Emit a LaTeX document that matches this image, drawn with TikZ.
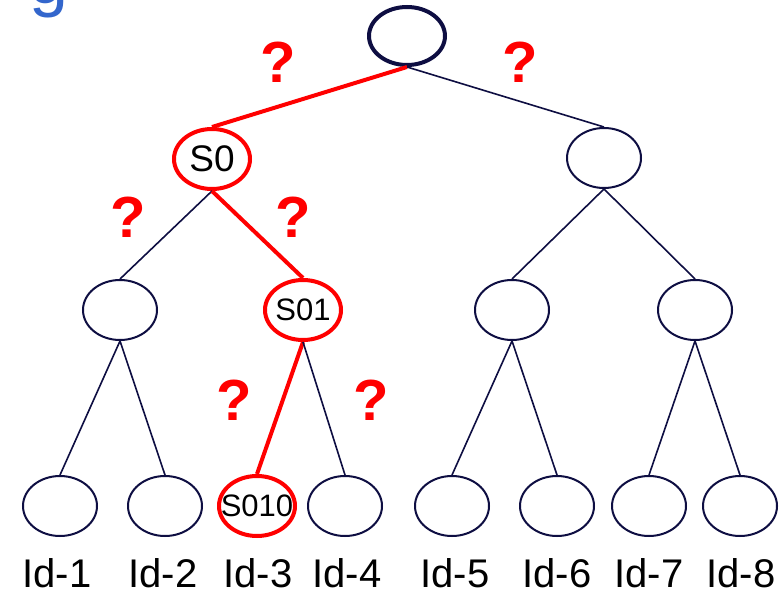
\documentclass[tikz,border=0pt]{standalone}
\usepackage{fontspec}
\setmainfont{Liberation Sans}
\usetikzlibrary{shapes.geometric}
\definecolor{navy}{RGB}{14,14,66}
\definecolor{titleblue}{RGB}{51,102,204}
\tikzset{
  nd/.style={ellipse, draw=navy, line width=2pt, minimum width=74pt, minimum height=60pt, inner sep=0pt, font=\fontsize{31}{36}\selectfont},
  hl/.style={nd, draw=red, line width=4pt, minimum width=76pt, minimum height=60pt},
  edge/.style={draw=navy, line width=1.6pt},
  redge/.style={draw=red, line width=4pt},
  qm/.style={text=red, anchor=base, inner sep=0pt, font=\fontsize{58}{64}\selectfont\bfseries},
  idl/.style={anchor=base, inner sep=0pt, font=\fontsize{40}{46}\selectfont}
}
\begin{document}
\begin{tikzpicture}[x=1pt,y=-1pt]
\clip (0,0) rectangle (783,593);
\fill[white] (0,0) rectangle (783,593);
\node[anchor=base west, inner sep=0pt, text=titleblue, font=\fontsize{70}{80}\selectfont] (title) at (29,4) {g};
% nodes
\node[nd, draw=navy, line width=4pt, minimum width=76pt, minimum height=58pt] (root) at (407,36) {};
\node[hl, font=\fontsize{37}{42}\selectfont] (s0) at (212,159) {\makebox[0pt]{S0}};
\node[nd] (r1) at (604,158) {};
\node[nd] (a) at (120,310) {};
\node[hl] (s01) at (303,310) {\makebox[0pt]{S01}};
\node[nd] (c) at (512,310) {};
\node[nd] (d) at (695,310) {};
\node[nd] (l1) at (60,506) {};
\node[nd] (l2) at (165,506) {};
\node[hl] (l3) at (257,506) {\makebox[0pt]{S010}};
\node[nd] (l4) at (345,506) {};
\node[nd] (l5) at (452,506) {};
\node[nd] (l6) at (557,506) {};
\node[nd] (l7) at (649,506) {};
\node[nd] (l8) at (740,506) {};
% edges
\draw[redge] (root.south) -- (s0.north);
\draw[edge] (root.south) -- (r1.north);
\draw[edge] (s0.south) -- (a.north);
\draw[redge] (s0.south) -- (s01.north);
\draw[edge] (r1.south) -- (c.north);
\draw[edge] (r1.south) -- (d.north);
\draw[edge] (a.south) -- (l1.north);
\draw[edge] (a.south) -- (l2.north);
\draw[redge] (s01.south) -- (l3.north);
\draw[edge] (s01.south) -- (l4.north);
\draw[edge] (c.south) -- (l5.north);
\draw[edge] (c.south) -- (l6.north);
\draw[edge] (d.south) -- (l7.north);
\draw[edge] (d.south) -- (l8.north);
% question marks
\node[qm] (q1) at (278,83) {?};
\node[qm] (q2) at (520,83) {?};
\node[qm] (q3) at (128,238) {?};
\node[qm] (q4) at (293,238) {?};
\node[qm] (q5) at (234,420) {?};
\node[qm] (q6) at (371,420) {?};
% labels
\node[idl] (t1) at (57,587) {Id-1};
\node[idl] (t2) at (163,587) {Id-2};
\node[idl] (t3) at (258,587) {Id-3};
\node[idl] (t4) at (347,587) {Id-4};
\node[idl] (t5) at (455,587) {Id-5};
\node[idl] (t6) at (557,587) {Id-6};
\node[idl] (t7) at (649,587) {Id-7};
\node[idl] (t8) at (741,587) {Id-8};
\end{tikzpicture}
\end{document}
